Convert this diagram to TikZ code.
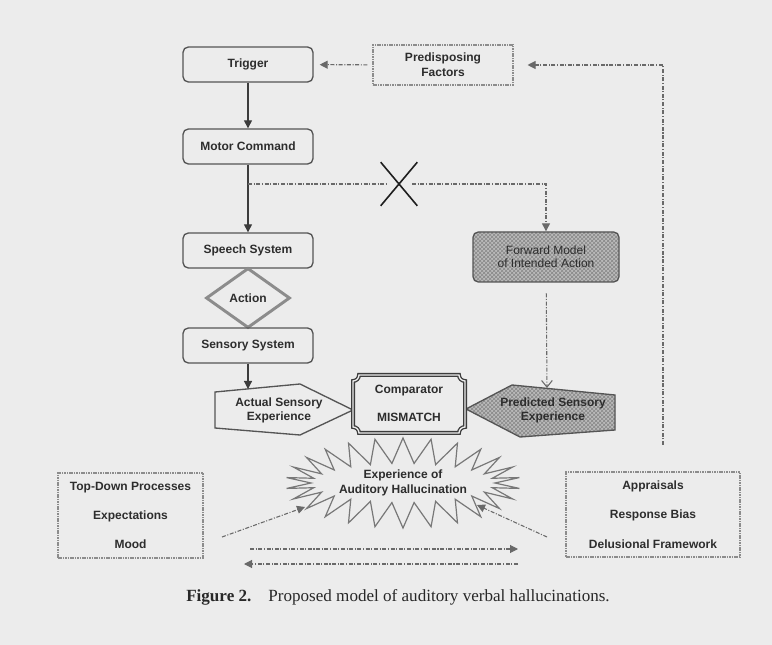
\documentclass[tikz,border=0pt]{standalone}
\usepackage{fontspec}
\setmainfont{Liberation Sans}
\newfontfamily\capfont{Liberation Serif}
\usetikzlibrary{arrows.meta,shapes.geometric,shapes.misc,shapes.symbols,patterns}

\begin{document}
\begin{tikzpicture}[x=0.75pt,y=0.75pt,yscale=-1,xscale=1,
  lbl/.style={font=\bfseries\fontsize{9}{11}\selectfont, text={rgb, 255:red, 45; green, 45; blue, 45}, align=center, inner sep=0.75pt},
  box/.style={lbl, draw={rgb, 255:red, 85; green, 85; blue, 85}, line width=1pt, rounded corners=4pt, minimum width=97.5pt, minimum height=26.25pt},
  thinframe/.style={lbl, draw={rgb, 255:red, 140; green, 140; blue, 140}, line width=0.8pt, dash pattern={on 1.2pt off 0.6pt}},
  hatch/.style={preaction={fill={rgb, 255:red, 186; green, 186; blue, 186}}, pattern=crosshatch, pattern color={rgb, 255:red, 135; green, 135; blue, 135}},
  link/.style={draw={rgb, 255:red, 105; green, 105; blue, 105}, line width=0.8pt, dash pattern={on 3pt off 1.2pt on 0.8pt off 1.2pt}},
  arrowfill/.style={-{Triangle[length=6pt,width=6pt]}},
  arrowopen/.style={-{Straight Barb[length=5pt,width=8pt]}}]
%uncomment if require: \path (0,645); %set diagram left start at 0, and has height of 645
\useasboundingbox (0,0) rectangle (772,645);
\fill [color={rgb, 255:red, 236; green, 236; blue, 236}] (0,0) rectangle (772,645);

%Shape: Rounded Rect [id:trigger]
\node [box] (trigger) at (248,64.5) {Trigger};
%Shape: Rounded Rect [id:motor]
\node [box] (motor) at (248,146.5) {Motor Command};
%Shape: Rounded Rect [id:speech]
\node [box] (speech) at (248,250.5) {Speech System};
%Shape: Diamond [id:action]
\node [lbl, diamond, draw={rgb, 255:red, 140; green, 140; blue, 140}, line width=2.2pt, minimum width=63pt, minimum height=45pt, inner sep=0pt] (action) at (248,298) {Action};
%Shape: Rounded Rect [id:sensory]
\node [box] (sensory) at (248,345.5) {Sensory System};

%Shape: Rectangle [id:predisposing]
\node [thinframe, minimum width=105pt, minimum height=30pt] (predisposing) at (443,65) {Predisposing\\Factors};
%Shape: Rounded Rect [id:forward]
\node [box, hatch, minimum width=109.5pt, minimum height=37.5pt, font=\fontsize{9}{10}\selectfont] (forward) at (546,257) {Forward Model\\of Intended Action};

%Shape: Polygon [id:actualshape]
\draw [draw={rgb, 255:red, 85; green, 85; blue, 85}, line width=1pt] (215,392) -- (300,384) -- (353,410) -- (300,435) -- (215,428) -- cycle ;
% Text Node
\node [lbl] (actual) at (279,410.5) {Actual Sensory\\Experience};
%Shape: Polygon [id:predictedshape]
\draw [hatch, draw={rgb, 255:red, 85; green, 85; blue, 85}, line width=1pt] (466,409) -- (512,385) -- (615,395) -- (615,430) -- (520,437) -- cycle ;
% Text Node
\node [lbl] (predicted) at (553,410.5) {Predicted Sensory\\Experience};
%Shape: Plaque [id:comparatorshape]
\draw [draw={rgb, 255:red, 60; green, 60; blue, 60}, line width=1pt, double={rgb, 255:red, 236; green, 236; blue, 236}, double distance=1pt] (359,375) -- (459,375) arc [start angle=180, end angle=90, radius=6] -- (465,427) arc [start angle=-90, end angle=-180, radius=6] -- (359,433) arc [start angle=0, end angle=-90, radius=6] -- (353,381) arc [start angle=90, end angle=0, radius=6] -- cycle ;
% Text Node
\node [lbl] (comparator) at (409,403.5) {Comparator\\[10.5pt]MISMATCH};

%Shape: Starburst [id:burst]
\node [lbl, starburst, starburst points=26, starburst point height=19pt, random starburst=0, draw={rgb, 255:red, 120; green, 120; blue, 120}, line width=0.9pt, minimum width=158pt, minimum height=56pt] (burst) at (403,483) {Experience of\\Auditory Hallucination};

%Shape: Rectangle [id:topdown]
\node [thinframe, minimum width=108.75pt, minimum height=63.75pt] (topdown) at (130.5,515.5) {Top-Down Processes\\[11pt]Expectations\\[11pt]Mood};
%Shape: Rectangle [id:appraisals]
\node [thinframe, minimum width=130.5pt, minimum height=63.75pt] (appraisals) at (653,514.5) {Appraisals\\[11pt]Response Bias\\[11pt]Delusional Framework};

%Shape: Cross [id:block]
\node [cross out, draw={rgb, 255:red, 30; green, 30; blue, 30}, line width=1.2pt, minimum width=26.25pt, minimum height=31.5pt, inner sep=0pt] (block) at (399,184) {};

\coordinate (split) at (248,184);
\coordinate (xl) at (388,184);
\coordinate (xr) at (412,184);
\coordinate (rise) at (663,445);
\coordinate (a-top) at (248,389);
\coordinate (p-top) at (547,388);
\coordinate (td-tail) at (222,537);
\coordinate (burst-sw) at (305,507);
\coordinate (ap-tail) at (547,537);
\coordinate (burst-se) at (477,505);
\coordinate (h1-a) at (250,549);
\coordinate (h1-b) at (518,549);
\coordinate (h2-a) at (518,564);
\coordinate (h2-b) at (244,564);

%Straight Lines [id:trigger-motor]
\draw [arrowfill, line width=0.9pt, draw={rgb, 255:red, 60; green, 60; blue, 60}] (trigger) -- (motor) ;
%Straight Lines [id:motor-speech]
\draw [arrowfill, line width=0.9pt, draw={rgb, 255:red, 60; green, 60; blue, 60}] (motor) -- (speech) ;
%Straight Lines [id:sensory-actual]
\draw [arrowfill, line width=0.9pt, draw={rgb, 255:red, 60; green, 60; blue, 60}] (sensory) -- (a-top) ;
%Straight Lines [id:copy]
\draw [link] (split) -- (xl) ;
\draw [link, arrowfill] (xr) -| (forward) ;
%Straight Lines [id:forward-predicted]
\draw [link, arrowopen, shorten <=8pt] (forward) -- (p-top) ;
%Straight Lines [id:predisposing-trigger]
\draw [link, arrowfill, shorten <=3.75pt, shorten >=4.5pt] (predisposing) -- (trigger) ;
%Straight Lines [id:feedback]
\draw [link, arrowfill, shorten >=10.5pt] (rise) |- (predisposing) ;
%Straight Lines [id:topdown-burst]
\draw [link, arrowfill] (td-tail) -- (burst-sw) ;
%Straight Lines [id:appraisals-burst]
\draw [link, arrowfill] (ap-tail) -- (burst-se) ;
%Straight Lines [id:across]
\draw [link, arrowfill] (h1-a) -- (h1-b) ;
\draw [link, arrowfill] (h2-a) -- (h2-b) ;

% Text Node
\node [font=\capfont\fontsize{12.8}{15}\selectfont, text={rgb, 255:red, 40; green, 40; blue, 40}, inner sep=0.75pt] (caption) at (398,597) {\textbf{Figure 2.}\quad Proposed model of auditory verbal hallucinations.};

\end{tikzpicture}
\end{document}
